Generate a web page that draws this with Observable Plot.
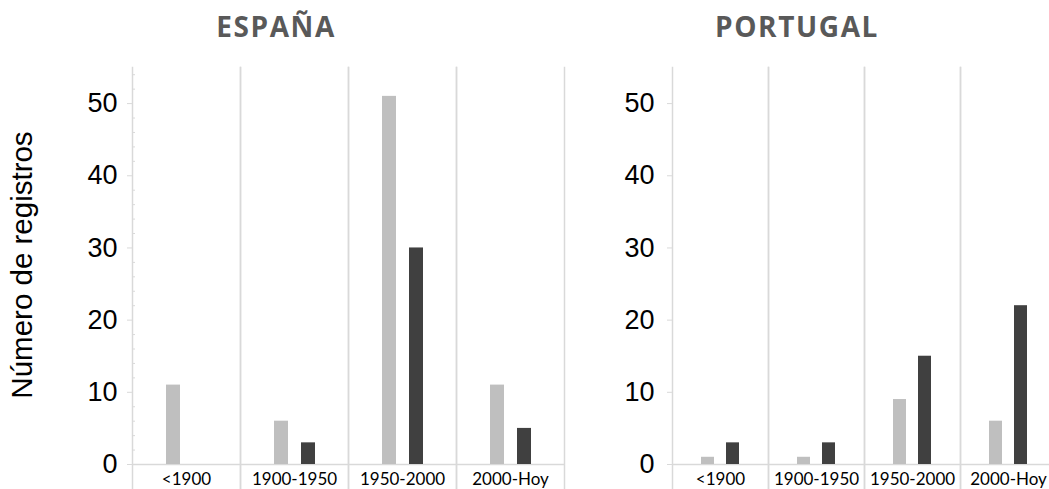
<!DOCTYPE html>
<html>
<head>
<meta charset="utf-8">
<script src="https://cdn.jsdelivr.net/npm/d3@7"></script>
<script src="https://cdn.jsdelivr.net/npm/@observablehq/plot@0.6"></script>
<style>
  html, body { margin: 0; padding: 0; background: #ffffff; }
  #wrap { position: relative; width: 1049px; height: 489px; overflow: hidden; background: #ffffff; }
  .panel { position: absolute; top: 0; }
  .title {
    position: absolute; top: 12px; line-height: 28px;
    font-family: "Open Sans", sans-serif; font-weight: 700; font-size: 28px;
    letter-spacing: 1.6px; color: #595959; white-space: nowrap;
    transform: translateX(-50%);
  }
  .ylabel {
    position: absolute; left: 22px; top: 265px;
    font-family: "Liberation Sans", Arial, sans-serif; font-size: 29.5px; color: #000;
    white-space: nowrap; transform: translate(-50%, -50%) rotate(-90deg);
  }
</style>
</head>
<body>
<div id="wrap"></div>
<script>
// ---- data ----
const periods = ["<1900", "1900-1950", "1950-2000", "2000-Hoy"];
const seriesKeys = ["claro", "oscuro"];
const espanaClaro = [11, 6, 51, 11];
const espanaOscuro = [0, 3, 30, 5];
const portugalClaro = [1, 1, 9, 6];
const portugalOscuro = [3, 3, 15, 22];
const yMajorTicks = [0, 10, 20, 30, 40, 50];
const yMinorTicks = [2, 4, 6, 8, 12, 14, 16, 18, 22, 24, 26, 28, 32, 34, 36, 38, 42, 44, 46, 48, 52, 54];
const panelTitles = ["ESPAÑA", "PORTUGAL"];
const yAxisLabel = "Número de registros";

function rows(claro, oscuro) {
  const out = [];
  periods.forEach((p, i) => {
    out.push({period: p, series: seriesKeys[0], value: claro[i]});
    out.push({period: p, series: seriesKeys[1], value: oscuro[i]});
  });
  return out;
}

const grid = "#d9d9d9";

function panel(data, opts) {
  const marks = [
    Plot.ruleY([0], {stroke: grid, strokeWidth: 1.5}),
    Plot.frame({anchor: "left", stroke: grid, strokeWidth: 1.5, insetBottom: -30}),
    Plot.frame({anchor: "right", stroke: grid, strokeWidth: 1.5, insetBottom: -30}),
    Plot.barY(data, {fx: "period", x: "series", y: "value", fill: "series"}),
    Plot.axisY(yMajorTicks, {
      anchor: "left", tickSize: 5, tickPadding: opts.tickPadding, label: null,
      fontSize: 27, fontFamily: "Liberation Sans, Arial, sans-serif",
      stroke: grid, fill: "#000"
    }),
    Plot.axisFx({
      anchor: "bottom", tickSize: 0, tickPadding: 8, label: null,
      fontSize: 17, fontFamily: "Lato, sans-serif", fill: "#000"
    })
  ];
  if (opts.minor) {
    marks.push(Plot.axisY(yMinorTicks, {
      anchor: "left", tickSize: 3, dx: 3, tickFormat: () => "", label: null, stroke: grid
    }));
  }
  return Plot.plot({
    width: opts.width, height: 489,
    marginLeft: opts.marginLeft, marginRight: opts.marginRight,
    marginTop: 67, marginBottom: 25,
    style: {background: "#ffffff", overflow: "visible"},
    fx: {domain: periods, padding: 0},
    x: {domain: seriesKeys, paddingInner: opts.pi, paddingOuter: opts.po, axis: null},
    y: {domain: [0, 55], axis: null},
    color: {domain: seriesKeys, range: ["#bfbfbf", "#404040"]},
    marks
  });
}

const wrap = document.getElementById("wrap");

const left = panel(rows(espanaClaro, espanaOscuro),
  {width: 600, marginLeft: 132, marginRight: 36, pi: 0.5, po: 1.179, tickPadding: 10, minor: true});
left.classList.add("panel");
left.style.left = "0px";
wrap.appendChild(left);

const right = panel(rows(portugalClaro, portugalOscuro),
  {width: 456, marginLeft: 72, marginRight: 0, pi: 0.48, po: 1.16, tickPadding: 13, minor: false});
right.classList.add("panel");
right.style.left = "600px";
wrap.appendChild(right);

const t1 = document.createElement("div");
t1.className = "title"; t1.textContent = panelTitles[0]; t1.style.left = "276px";
wrap.appendChild(t1);
const t2 = document.createElement("div");
t2.className = "title"; t2.textContent = panelTitles[1]; t2.style.left = "797px";
wrap.appendChild(t2);

const yl = document.createElement("div");
yl.className = "ylabel"; yl.textContent = yAxisLabel;
wrap.appendChild(yl);
</script>
</body>
</html>
